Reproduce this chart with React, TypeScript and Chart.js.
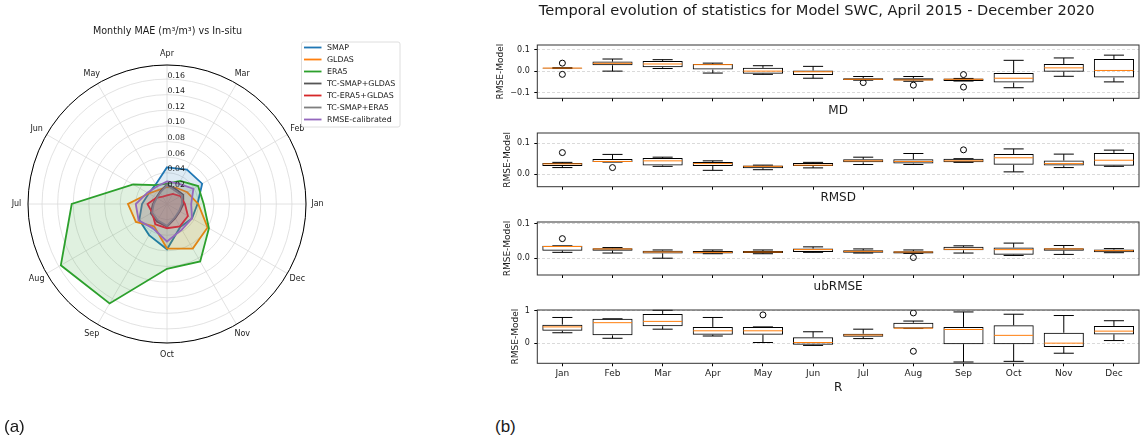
import React, { useEffect, useRef } from 'react';
import { Chart, registerables } from 'chart.js';

Chart.register(...registerables);

const FONT = '"DejaVu Sans", "Liberation Sans", sans-serif';
const TEXT = '#1a1a1a';

// ---------- shared categories ----------
const months = ['Jan', 'Feb', 'Mar', 'Apr', 'May', 'Jun', 'Jul', 'Aug', 'Sep', 'Oct', 'Nov', 'Dec'];

// ---------- (a) radar: monthly MAE (Jan..Dec) ----------
const smapMAE = [0.039, 0.052, 0.051, 0.047, 0.029, 0.027, 0.032, 0.041, 0.046, 0.058, 0.034, 0.037];
const gldasMAE = [0.040, 0.030, 0.024, 0.022, 0.021, 0.027, 0.050, 0.046, 0.033, 0.057, 0.066, 0.060];
const era5MAE = [0.047, 0.046, 0.034, 0.026, 0.028, 0.050, 0.122, 0.157, 0.147, 0.083, 0.085, 0.062];
const tcSmapGldasMAE = [0.021, 0.024, 0.022, 0.025, 0.018, 0.016, 0.018, 0.024, 0.026, 0.029, 0.021, 0.019];
const tcEra5GldasMAE = [0.023, 0.020, 0.015, 0.011, 0.011, 0.016, 0.025, 0.022, 0.030, 0.031, 0.033, 0.031];
const tcSmapEra5MAE = [0.019, 0.022, 0.020, 0.024, 0.017, 0.015, 0.017, 0.022, 0.024, 0.028, 0.020, 0.018];
const rmseCalibratedMAE = [0.031, 0.039, 0.030, 0.029, 0.026, 0.029, 0.040, 0.042, 0.036, 0.048, 0.038, 0.037];

const radarSeriesNames = ['SMAP', 'GLDAS', 'ERA5', 'TC-SMAP+GLDAS', 'TC-ERA5+GLDAS', 'TC-SMAP+ERA5', 'RMSE-calibrated'];
const radarSeriesColors = ['#1f77b4', '#ff7f0e', '#2ca02c', '#555555', '#d62728', '#7f7f7f', '#9467bd'];
const radarSeriesValues = [smapMAE, gldasMAE, era5MAE, tcSmapGldasMAE, tcEra5GldasMAE, tcSmapEra5MAE, rmseCalibratedMAE];

const radarTickValues = [0.02, 0.04, 0.06, 0.08, 0.10, 0.12, 0.14, 0.16];
const radarMax = 0.178;
// clockwise from top (Chart.js radar order) = counter-clockwise from Jan at the right
const radarLabelOrder = ['Apr', 'Mar', 'Feb', 'Jan', 'Dec', 'Nov', 'Oct', 'Sep', 'Aug', 'Jul', 'Jun', 'May'];

// ---------- (b) box plots ----------
// MD
const mdLow = [0.012, 0.0, 0.012, -0.009, -0.015, -0.033, -0.042, -0.047, -0.046, -0.077, -0.024, -0.050];
const mdQ1 = [0.012, 0.027, 0.018, 0.007, -0.012, -0.018, -0.041, -0.044, -0.046, -0.053, -0.003, -0.030];
const mdMed = [0.014, 0.036, 0.033, 0.030, 0.0, -0.003, -0.038, -0.041, -0.038, -0.033, 0.015, 0.003];
const mdQ3 = [0.016, 0.044, 0.047, 0.033, 0.015, 0.003, -0.033, -0.033, -0.034, -0.009, 0.033, 0.056];
const mdHigh = [0.016, 0.056, 0.053, 0.037, 0.025, 0.022, -0.025, -0.025, -0.034, 0.050, 0.061, 0.074];
const mdOutliers: [string, number][] = [['Jan', 0.037], ['Jan', -0.015], ['Jul', -0.053], ['Aug', -0.065], ['Sep', -0.016], ['Sep', -0.074]];

// RMSD
const rmsdLow = [0.021, 0.039, 0.025, 0.012, 0.014, 0.020, 0.031, 0.031, 0.038, 0.007, 0.021, 0.025];
const rmsdQ1 = [0.026, 0.039, 0.028, 0.026, 0.019, 0.026, 0.038, 0.034, 0.038, 0.030, 0.028, 0.027];
const rmsdMed = [0.033, 0.041, 0.043, 0.034, 0.025, 0.029, 0.043, 0.041, 0.043, 0.053, 0.034, 0.045];
const rmsdQ3 = [0.036, 0.049, 0.052, 0.039, 0.028, 0.036, 0.048, 0.048, 0.050, 0.065, 0.044, 0.069];
const rmsdHigh = [0.038, 0.064, 0.055, 0.043, 0.029, 0.038, 0.055, 0.067, 0.050, 0.082, 0.065, 0.078];
const rmsdOutliers: [string, number][] = [['Jan', 0.070], ['Feb', 0.021], ['Sep', 0.079]];

// ubRMSE
const ubLow = [0.017, 0.015, 0.0, 0.013, 0.013, 0.017, 0.015, 0.014, 0.015, 0.008, 0.011, 0.016];
const ubQ1 = [0.022, 0.022, 0.014, 0.014, 0.015, 0.018, 0.016, 0.014, 0.023, 0.010, 0.022, 0.017];
const ubMed = [0.034, 0.027, 0.018, 0.017, 0.018, 0.025, 0.020, 0.018, 0.026, 0.025, 0.027, 0.022];
const ubQ3 = [0.036, 0.029, 0.022, 0.021, 0.021, 0.028, 0.023, 0.020, 0.033, 0.031, 0.029, 0.025];
const ubHigh = [0.036, 0.031, 0.024, 0.024, 0.024, 0.033, 0.027, 0.024, 0.036, 0.044, 0.037, 0.028];
const ubOutliers: [string, number][] = [['Jan', 0.057], ['Aug', 0.002]];

// R
const rLow = [0.32, 0.15, 0.43, 0.22, 0.02, -0.07, 0.14, 0.45, -0.58, -0.56, -0.31, 0.08];
const rQ1 = [0.38, 0.24, 0.52, 0.26, 0.26, -0.05, 0.20, 0.45, -0.03, -0.03, -0.12, 0.27];
const rMed = [0.50, 0.63, 0.67, 0.38, 0.38, 0.02, 0.25, 0.46, 0.42, 0.24, 0.00, 0.37];
const rQ3 = [0.57, 0.75, 0.90, 0.50, 0.50, 0.18, 0.29, 0.63, 0.50, 0.55, 0.32, 0.53];
const rHigh = [0.79, 0.75, 1.01, 0.79, 0.50, 0.35, 0.43, 0.68, 0.96, 0.89, 0.85, 0.69];
const rOutliers: [string, number][] = [['May', 0.87], ['Aug', 0.93], ['Aug', -0.25]];

function rgba(hex: string, a: number) {
  const n = parseInt(hex.slice(1), 16);
  return `rgba(${(n >> 16) & 255},${(n >> 8) & 255},${n & 255},${a})`;
}

function RadarPanel() {
  const ref = useRef<HTMLCanvasElement>(null);
  useEffect(() => {
    if (!ref.current) return;
    const decor = {
      id: 'radarDecor',
      afterDraw(chart: any) {
        const { ctx } = chart;
        const s = chart.scales.r;
        ctx.save();
        // outer spine
        ctx.beginPath();
        ctx.arc(s.xCenter, s.yCenter, s.drawingArea, 0, Math.PI * 2);
        ctx.strokeStyle = '#000';
        ctx.lineWidth = 1;
        ctx.stroke();
        // month labels
        ctx.fillStyle = TEXT;
        ctx.font = `8px ${FONT}`;
        ctx.textAlign = 'center';
        ctx.textBaseline = 'middle';
        chart.data.labels.forEach((lab: string, i: number) => {
          const p = s.getPointPosition(i, s.drawingArea + 11.5);
          ctx.fillText(lab, p.x, p.y);
        });
        // radial tick labels
        ctx.textAlign = 'left';
        ctx.font = `7.8px ${FONT}`;
        radarTickValues.forEach((v) => {
          const d = s.getDistanceFromCenterForValue(v);
          ctx.fillText(v.toFixed(2), s.xCenter + 0.5, s.yCenter - d - 3.5);
        });
        // title
        ctx.textAlign = 'center';
        ctx.font = `9.6px ${FONT}`;
        ctx.fillText('Monthly MAE (m\u00b3/m\u00b3) vs In-situ', 167.5, 31);
        // legend
        const lx = 301.5, ly = 42, lw = 98.5, lh = 85;
        ctx.beginPath();
        if ((ctx as any).roundRect) (ctx as any).roundRect(lx, ly, lw, lh, 2);
        else ctx.rect(lx, ly, lw, lh);
        ctx.fillStyle = 'rgba(255,255,255,0.85)';
        ctx.fill();
        ctx.strokeStyle = '#d5d5d5';
        ctx.lineWidth = 0.8;
        ctx.stroke();
        ctx.textAlign = 'left';
        ctx.font = `7.9px ${FONT}`;
        chart.data.datasets.forEach((ds: any, k: number) => {
          const y = 47.5 + k * 12;
          ctx.beginPath();
          ctx.moveTo(304, y);
          ctx.lineTo(321.5, y);
          ctx.strokeStyle = ds.borderColor;
          ctx.lineWidth = 1.8;
          ctx.stroke();
          ctx.fillStyle = TEXT;
          ctx.fillText(ds.label, 327, y + 0.5);
        });
        ctx.restore();
      },
    };
    const chart = new Chart(ref.current, {
      type: 'radar',
      data: {
        labels: radarLabelOrder,
        datasets: radarSeriesNames.map((name, k) => ({
          label: name,
          data: radarLabelOrder.map((m) => radarSeriesValues[k][months.indexOf(m)]),
          borderColor: radarSeriesColors[k],
          backgroundColor: rgba(radarSeriesColors[k], 0.15),
          borderWidth: 1.8,
          pointRadius: 0,
          pointHoverRadius: 0,
          fill: true,
          tension: 0,
          order: 20 - k,
        })),
      },
      options: {
        animation: false,
        responsive: false,
        maintainAspectRatio: false,
        layout: { padding: { left: 28, right: 114, top: 65, bottom: 95 } },
        plugins: { legend: { display: false }, tooltip: { enabled: false }, title: { display: false } },
        scales: {
          r: {
            min: 0,
            max: radarMax,
            startAngle: 0,
            grid: { circular: true, color: '#dadada', lineWidth: 0.8 },
            angleLines: { color: '#dadada', lineWidth: 0.8 },
            pointLabels: { display: false },
            ticks: { display: false, stepSize: 0.02 },
            afterBuildTicks: (scale: any) => {
              scale.ticks = [0, ...radarTickValues, radarMax].map((v) => ({ value: v }));
            },
          },
        },
      },
      plugins: [decor],
    } as any);
    return () => chart.destroy();
  }, []);
  return <canvas ref={ref} width={420} height={438} style={{ position: 'absolute', left: 0, top: 0 }} />;
}

type BoxProps = {
  low: number[]; q1: number[]; med: number[]; q3: number[]; high: number[];
  outliers: [string, number][];
  yMin: number; yMax: number; step: number; decimals: number;
  xlabel: string; top: number; height: number; padTop: number; areaH: number;
  showX: boolean; xlabelGap: number;
};

function BoxPanel(p: BoxProps) {
  const ref = useRef<HTMLCanvasElement>(null);
  useEffect(() => {
    if (!ref.current) return;
    const decor = {
      id: 'boxDecor',
      afterDatasetsDraw(chart: any) {
        const { ctx } = chart;
        const xs = chart.scales.x;
        const ys = chart.scales.y;
        const meta = chart.getDatasetMeta(0);
        ctx.save();
        ctx.lineWidth = 1;
        months.forEach((_m, i) => {
          const x = xs.getPixelForValue(i);
          const bw = meta.data[i].width;
          const yHi = ys.getPixelForValue(p.high[i]);
          const yLo = ys.getPixelForValue(p.low[i]);
          ctx.strokeStyle = '#000';
          ctx.beginPath();
          ctx.moveTo(x, ys.getPixelForValue(p.q3[i]));
          ctx.lineTo(x, yHi);
          ctx.moveTo(x, ys.getPixelForValue(p.q1[i]));
          ctx.lineTo(x, yLo);
          ctx.moveTo(x - bw / 4, yHi);
          ctx.lineTo(x + bw / 4, yHi);
          ctx.moveTo(x - bw / 4, yLo);
          ctx.lineTo(x + bw / 4, yLo);
          ctx.stroke();
          const yMed = ys.getPixelForValue(p.med[i]);
          ctx.strokeStyle = '#ff7f0e';
          ctx.beginPath();
          ctx.moveTo(x - bw / 2 + 0.5, yMed);
          ctx.lineTo(x + bw / 2 - 0.5, yMed);
          ctx.stroke();
        });
        ctx.restore();
      },
      afterDraw(chart: any) {
        const { ctx, chartArea: a } = chart;
        const ys = chart.scales.y;
        ctx.save();
        ctx.strokeStyle = '#333';
        ctx.lineWidth = 1;
        ctx.strokeRect(a.left, a.top, a.right - a.left, a.bottom - a.top);
        // y label
        ctx.font = `8px ${FONT}`;
        const maxW = Math.max(...ys.ticks.map((t: any) => ctx.measureText(String(t.label)).width));
        const lx = a.left - 3 - 4.5 - maxW - 5 - 4.5;
        ctx.fillStyle = TEXT;
        ctx.font = `9px ${FONT}`;
        ctx.textAlign = 'center';
        ctx.textBaseline = 'middle';
        ctx.translate(lx, (a.top + a.bottom) / 2);
        ctx.rotate(-Math.PI / 2);
        ctx.fillText('RMSE-Model', 0, 0);
        ctx.restore();
        ctx.save();
        ctx.fillStyle = TEXT;
        ctx.font = `12px ${FONT}`;
        ctx.textAlign = 'center';
        ctx.textBaseline = 'middle';
        ctx.fillText(p.xlabel, (a.left + a.right) / 2, a.bottom + p.xlabelGap);
        ctx.restore();
      },
    };
    const xH = p.height - p.padTop - p.areaH;
    const chart = new Chart(ref.current, {
      type: 'bar',
      data: {
        labels: months,
        datasets: [
          {
            type: 'bar',
            data: p.q1.map((v, i) => [v, p.q3[i]]),
            backgroundColor: 'rgba(255,255,255,0)',
            borderColor: '#000',
            borderWidth: 1,
            borderSkipped: false,
            barPercentage: 0.8,
            categoryPercentage: 1,
            order: 2,
          },
          {
            type: 'scatter',
            data: p.outliers.map(([m, v]) => ({ x: m, y: v })),
            pointStyle: 'circle',
            pointRadius: 3,
            borderColor: '#000',
            backgroundColor: 'rgba(0,0,0,0)',
            borderWidth: 1,
            order: 1,
          },
        ],
      },
      options: {
        animation: false,
        responsive: false,
        maintainAspectRatio: false,
        layout: { padding: { left: 0, right: 4.7, top: p.padTop, bottom: 0 } },
        plugins: { legend: { display: false }, tooltip: { enabled: false } },
        scales: {
          x: {
            type: 'category',
            offset: true,
            grid: { display: true, offset: false, drawOnChartArea: false, drawTicks: true, tickLength: 3, tickColor: '#000', tickWidth: 1 },
            border: { display: false },
            ticks: { display: p.showX, color: TEXT, font: { family: FONT, size: 9 }, padding: 1.5, maxRotation: 0, autoSkip: false },
            afterFit: (s: any) => { s.height = xH; s.paddingLeft = 0; s.paddingRight = 0; },
          },
          y: {
            min: p.yMin,
            max: p.yMax,
            grid: { color: '#d0d0d0', lineWidth: 0.8, drawTicks: true, tickLength: 3, tickColor: '#000', tickWidth: 1, tickBorderDash: [] },
            border: { display: false, dash: [3, 2] },
            ticks: {
              stepSize: p.step,
              includeBounds: false,
              color: TEXT,
              font: { family: FONT, size: 8 },
              padding: 4.5,
              callback: (v: any) => {
                const n = Number(v);
                const s = Math.abs(n).toFixed(p.decimals);
                return n < -1e-9 ? '\u2212' + s : s;
              },
            },
            afterFit: (s: any) => { s.width = 57.3; s.paddingTop = 0; s.paddingBottom = 0; },
          },
        },
      },
      plugins: [decor],
    } as any);
    return () => chart.destroy();
  }, []);
  return <canvas ref={ref} width={664} height={p.height} style={{ position: 'absolute', left: 480, top: p.top }} />;
}

export default function App() {
  return (
    <div style={{ position: 'absolute', left: 0, top: 0, width: 1144, height: 438, background: '#fff', overflow: 'hidden', fontFamily: FONT }}>
      <RadarPanel />
      <div style={{ position: 'absolute', left: 416.7, width: 800, top: 0, height: 20, lineHeight: '20px', textAlign: 'center', fontSize: 14.6, color: TEXT, whiteSpace: 'nowrap' }}>
        Temporal evolution of statistics for Model SWC, April 2015 - December 2020
      </div>
      <BoxPanel low={mdLow} q1={mdQ1} med={mdMed} q3={mdQ3} high={mdHigh} outliers={mdOutliers}
        yMin={-0.126} yMax={0.121} step={0.1} decimals={1} xlabel="MD"
        top={40} height={80} padTop={2.3} areaH={56} showX={false} xlabelGap={12.4} />
      <BoxPanel low={rmsdLow} q1={rmsdQ1} med={rmsdMed} q3={rmsdQ3} high={rmsdHigh} outliers={rmsdOutliers}
        yMin={-0.0415} yMax={0.134} step={0.1} decimals={1} xlabel="RMSD"
        top={128} height={80} padTop={2} areaH={56.7} showX={false} xlabelGap={11.3} />
      <BoxPanel low={ubLow} q1={ubQ1} med={ubMed} q3={ubQ3} high={ubHigh} outliers={ubOutliers}
        yMin={-0.049} yMax={0.1055} step={0.1} decimals={1} xlabel="ubRMSE"
        top={217} height={80} padTop={2} areaH={56} showX={false} xlabelGap={12} />
      <BoxPanel low={rLow} q1={rQ1} med={rMed} q3={rQ3} high={rHigh} outliers={rOutliers}
        yMin={-0.62} yMax={1.02} step={1} decimals={0} xlabel="R"
        top={305} height={95} padTop={2.7} areaH={55.6} showX={true} xlabelGap={24.7} />
      <div style={{ position: 'absolute', left: 4, top: 415, fontFamily: '"Liberation Sans", Arial, sans-serif', fontSize: 17, lineHeight: '24px', color: TEXT }}>(a)</div>
      <div style={{ position: 'absolute', left: 495, top: 415, fontFamily: '"Liberation Sans", Arial, sans-serif', fontSize: 17, lineHeight: '24px', color: TEXT }}>(b)</div>
    </div>
  );
}
